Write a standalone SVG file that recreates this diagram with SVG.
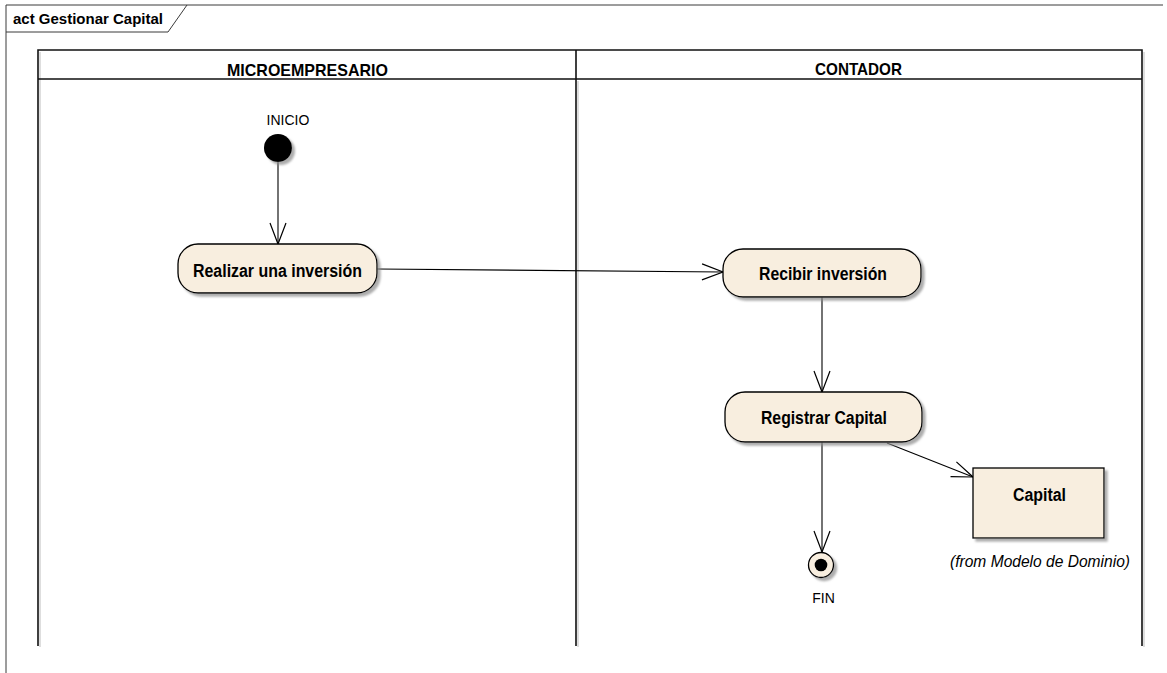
<svg xmlns="http://www.w3.org/2000/svg" width="1167" height="673" viewBox="0 0 1167 673">
<style>
.frame{fill:none;stroke:#3a3a3a;stroke-width:1}
.lane{fill:none;stroke:#111;stroke-width:1.6}
.laneSh{fill:none;stroke:#c8c8c8;stroke-width:1.2}
.node{fill:#F8EEDF;stroke:#000;stroke-width:1.3}
.conn{fill:none;stroke:#000;stroke-width:1.1}
.bold{font-family:"Liberation Sans",Arial,sans-serif;font-weight:bold;fill:#000}
.reg{font-family:"Liberation Sans",Arial,sans-serif;fill:#000}
</style>
<defs>
<filter id="sh" x="-10%" y="-10%" width="130%" height="140%">
<feDropShadow dx="3" dy="3" stdDeviation="1.2" flood-color="#8a8a8a" flood-opacity="0.7"/>
</filter>
<marker id="open" viewBox="0 0 24 18" refX="22" refY="9" markerWidth="24" markerHeight="18" markerUnits="userSpaceOnUse" orient="auto">
<path d="M1,1 L22,9 L1,17" fill="none" stroke="#000" stroke-width="1.2"/>
</marker>
</defs>
<rect x="0" y="0" width="1167" height="673" fill="#fff"/>

<g id="frame">
<path class="frame" d="M1163,5 L6,5 L6,673"/>
<path class="frame" d="M6,32 L168,32 L187,5"/>
<text class="bold" x="13" y="24" font-size="14" textLength="150" lengthAdjust="spacingAndGlyphs">act Gestionar Capital</text>
</g>

<g id="lanes">
<path class="laneSh" d="M40,52 L40,647 M578,81 L578,647 M1144,52 L1144,647"/>
<path class="lane" d="M38,646 L38,50 L1142,50 L1142,646 M38,79 L1142,79 M576,50 L576,646"/>
<text class="bold" x="307.5" y="76" font-size="17" text-anchor="middle" textLength="161" lengthAdjust="spacingAndGlyphs">MICROEMPRESARIO</text>
<text class="bold" x="858.5" y="75" font-size="17" text-anchor="middle" textLength="87" lengthAdjust="spacingAndGlyphs">CONTADOR</text>
</g>

<g id="connectors">
<line class="conn" x1="278" y1="162" x2="278" y2="244" marker-end="url(#open)"/>
<line class="conn" x1="377" y1="269" x2="723" y2="272" marker-end="url(#open)"/>
<line class="conn" x1="822" y1="297" x2="822" y2="392" marker-end="url(#open)"/>
<line class="conn" x1="887" y1="443" x2="973" y2="477" marker-end="url(#open)"/>
<line class="conn" x1="822" y1="442" x2="822" y2="552" marker-end="url(#open)"/>
</g>

<g id="inicio">
<circle cx="278" cy="148" r="14" fill="#000" filter="url(#sh)"/>
<text class="reg" x="288" y="125" font-size="14" text-anchor="middle">INICIO</text>
</g>

<g id="realizar">
<rect class="node" x="178" y="244" width="199" height="49" rx="20" ry="20" filter="url(#sh)"/>
<text class="bold" x="277.5" y="277" font-size="18" text-anchor="middle" textLength="169" lengthAdjust="spacingAndGlyphs">Realizar una inversión</text>
</g>

<g id="recibir">
<rect class="node" x="723" y="249" width="198" height="48" rx="20" ry="20" filter="url(#sh)"/>
<text class="bold" x="823" y="280" font-size="18" text-anchor="middle" textLength="128" lengthAdjust="spacingAndGlyphs">Recibir inversión</text>
</g>

<g id="registrar">
<rect class="node" x="725" y="392" width="197" height="50" rx="20" ry="20" filter="url(#sh)"/>
<text class="bold" x="824" y="423.5" font-size="18" text-anchor="middle" textLength="126" lengthAdjust="spacingAndGlyphs">Registrar Capital</text>
</g>

<g id="capital">
<rect class="node" x="973" y="468" width="131" height="70" filter="url(#sh)"/>
<text class="bold" x="1039.5" y="501" font-size="18" text-anchor="middle" textLength="53" lengthAdjust="spacingAndGlyphs">Capital</text>
<text class="reg" x="1040" y="567" font-size="16" font-style="italic" text-anchor="middle" textLength="180" lengthAdjust="spacingAndGlyphs">(from Modelo de Dominio)</text>
</g>

<g id="fin">
<circle class="node" cx="821" cy="565" r="12.5" filter="url(#sh)"/>
<circle cx="821" cy="565" r="6.3" fill="#000"/>
<text class="reg" x="823.5" y="603" font-size="14" text-anchor="middle">FIN</text>
</g>
</svg>
